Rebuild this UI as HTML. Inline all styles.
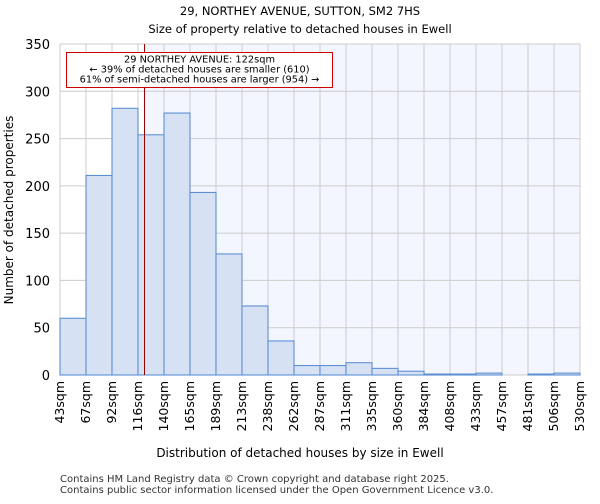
<!DOCTYPE html>
<html><head><meta charset="utf-8"><style>
body{margin:0;background:#fff;font-family:"DejaVu Sans","Liberation Sans",sans-serif;}
</style></head><body>
<svg width="600" height="500" xmlns="http://www.w3.org/2000/svg" font-family="DejaVu Sans, Liberation Sans, sans-serif">
<text x="300" y="15" text-anchor="middle" font-size="11.5">29, NORTHEY AVENUE, SUTTON, SM2 7HS</text>
<text x="300" y="33" text-anchor="middle" font-size="11.5">Size of property relative to detached houses in Ewell</text>
<g id="plot"></g>
<text x="300" y="457" text-anchor="middle" font-size="12">Distribution of detached houses by size in Ewell</text>
<text x="13" y="210" text-anchor="middle" font-size="12" transform="rotate(-90 13 210)">Number of detached properties</text>
<text x="60" y="482" font-size="10" fill="#333">Contains HM Land Registry data © Crown copyright and database right 2025.</text>
<text x="60" y="493" font-size="10" fill="#333">Contains public sector information licensed under the Open Government Licence v3.0.</text>
</svg>
<script>
const binLabels=["43sqm","67sqm","92sqm","116sqm","140sqm","165sqm","189sqm","213sqm","238sqm","262sqm","287sqm","311sqm","335sqm","360sqm","384sqm","408sqm","433sqm","457sqm","481sqm","506sqm","530sqm"];
const binEdges=[43,67,92,116,140,165,189,213,238,262,287,311,335,360,384,408,433,457,481,506,530];
const counts=[60,211,282,254,277,193,128,73,36,10,10,13,7,4,1,1,2,0,1,2];
const yTicks=[0,50,100,150,200,250,300,350];
const propertySize=122;
const NS="http://www.w3.org/2000/svg";
const L=60,R=580,T=44,B=375,yMax=350;
const n=counts.length;
const bw=(R-L)/n;
const xi=i=>L+i*bw;
function xv(v){let i=0;while(i<binEdges.length-2&&v>binEdges[i+1])i++;return xi(i)+(v-binEdges[i])/(binEdges[i+1]-binEdges[i])*bw;}
const y=v=>B-v/yMax*(B-T);
const g=document.getElementById('plot');
function mk(t,a){const e=document.createElementNS(NS,t);for(const k in a)e.setAttribute(k,a[k]);g.appendChild(e);return e;}
const px=xv(propertySize);
let e=mk('rect',{x:px,y:T,width:R-px,height:B-T,fill:'#f3f6fe'});


for(let i=0;i<=n;i++){e=mk('line',{x1:xi(i),x2:xi(i),y1:T,y2:B,stroke:'#cccccc','stroke-width':1});

}
yTicks.forEach(t=>{e=mk('line',{x1:L,x2:R,y1:y(t),y2:y(t),stroke:'#cccccc','stroke-width':1});


e=mk('text',{x:L-10,y:y(t)+5,'text-anchor':'end','font-size':13});e.textContent=t;

});
counts.forEach((c,i)=>{e=mk('rect',{x:xi(i),y:y(c),width:bw,height:B-y(c),fill:'#d6e2f3',stroke:'#5f8fd3','stroke-width':1.1});

});
binLabels.forEach((l,i)=>{const xx=xi(i)+4;e=mk('text',{x:xx,y:381,'text-anchor':'end','font-size':12.5,transform:`rotate(-90 ${xx} 381)`});e.textContent=l;

});
e=mk('line',{x1:px,x2:px,y1:T,y2:B,stroke:'#990000','stroke-width':1});


e=mk('rect',{x:66.5,y:52.5,width:266,height:35,fill:'#fff',stroke:'#cc0000','stroke-width':1});


["29 NORTHEY AVENUE: 122sqm","← 39% of detached houses are smaller (610)","61% of semi-detached houses are larger (954) →"].forEach((s,k)=>{e=mk('text',{x:199.5,y:62.5+k*10,'text-anchor':'middle','font-size':9.8});e.textContent=s;

});
</script>
</body></html>
